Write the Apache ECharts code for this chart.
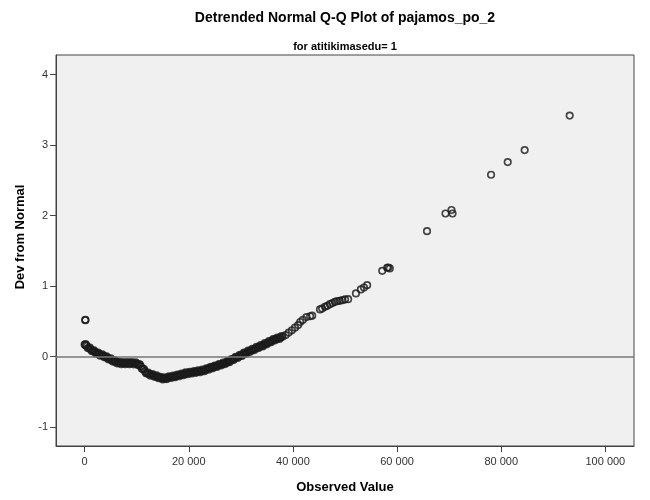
<!DOCTYPE html>
<html>
<head>
<meta charset="utf-8">
<script src="https://cdn.jsdelivr.net/npm/echarts@6/dist/echarts.min.js"></script>
<style>
  html, body { margin: 0; padding: 0; background: #fff; }
  #qq { width: 650px; height: 500px; }
</style>
</head>
<body>
<div id="qq"></div>
<script>
var observed = [
    130, 140,
    0, 150, 400, 800, 1200, 1600, 2000, 2400, 2800, 3200, 3600, 4000, 4400, 4800,
    5200, 5600, 6000, 6400, 6800, 7200, 7600, 8000, 8400, 8800, 9200, 9600,
    10000, 10400, 10800, 11200, 11600, 12000, 12400, 12800, 13200, 13600, 14000,
    14400, 14800, 15200, 15600, 16000, 16400, 16800, 17200, 17600, 18000, 18400,
    18800, 19200, 19600, 20000, 20400, 20800, 21200, 21600, 22000, 22400, 22800,
    23200, 23600, 24000, 24400, 24800, 25200, 25600, 26000, 26400, 26800, 27200,
    27600, 28000, 28400, 28800, 29200, 29600, 30000, 30400, 30800, 31200, 31600,
    32000, 32400, 32800, 33200, 33600, 34000, 34400, 34800, 35200, 35600, 36000,
    36400, 36800, 37200, 37600, 38000,
    38600, 39200, 39800, 40400, 41000, 41400, 41900, 42600, 43300, 43700,
    45200, 45600, 46150, 46600, 47100, 47600, 48050, 48500, 49000, 49500, 50000, 50600,
    52100, 53050, 53650, 54250,
    57150, 58100, 58300, 58600,
    65750, 69300, 70450, 70650,
    78050, 81250, 84500, 93150
];
var devFromNormal = [
    0.516, 0.52,
    0.17, 0.16, 0.15, 0.12, 0.10, 0.08, 0.063, 0.048, 0.033, 0.021, 0.011, -0.004, -0.018, -0.033,
    -0.049, -0.063, -0.076, -0.086, -0.092, -0.095, -0.095, -0.093, -0.093, -0.095, -0.095, -0.096,
    -0.099, -0.112, -0.140, -0.178, -0.212, -0.236, -0.250, -0.259, -0.268, -0.278, -0.288,
    -0.298, -0.308, -0.314, -0.309, -0.300, -0.292, -0.288, -0.283, -0.275, -0.266, -0.261,
    -0.253, -0.244, -0.238, -0.233, -0.228, -0.224, -0.219, -0.214, -0.209, -0.204, -0.198,
    -0.187, -0.176, -0.166, -0.157, -0.147, -0.137, -0.127, -0.117, -0.107, -0.097, -0.087,
    -0.073, -0.057, -0.042, -0.027, -0.013, 0.001, 0.016, 0.032, 0.047, 0.061, 0.076,
    0.088, 0.099, 0.114, 0.128, 0.141, 0.151, 0.166, 0.181, 0.195, 0.210, 0.225,
    0.240, 0.250, 0.259, 0.269, 0.279,
    0.305, 0.340, 0.372, 0.410, 0.446, 0.490, 0.520, 0.560, 0.572, 0.580,
    0.668, 0.680, 0.705, 0.720, 0.743, 0.760, 0.776, 0.785, 0.790, 0.800, 0.810, 0.814,
    0.895, 0.952, 0.980, 1.013,
    1.216, 1.260, 1.264, 1.250,
    1.780, 2.030, 2.080, 2.030,
    2.580, 2.760, 2.930, 3.420
];
// more cases inside the dense band (its upper and lower edges)
var observedBand = [
    200, 600, 1000, 1400, 1800, 2200, 2600, 3000, 3400, 3800, 4200, 4600, 5000,
    5400, 5800, 6200, 6600, 7000, 7400, 7800, 8200, 8600, 9000, 9400, 9800,
    10200, 10600, 11000, 11400, 11800, 12200, 12600, 13000, 13400, 13800, 14200,
    14600, 15000, 15400, 15800, 16200, 16600, 17000, 17400, 17800, 18200, 18600,
    19000, 19400, 19800, 20200, 20600, 21000, 21400, 21800, 22200, 22600, 23000,
    23400, 23800, 24200, 24600, 25000, 25400, 25800, 26200, 26600, 27000, 27400,
    27800, 28200, 28600, 29000, 29400, 29800, 30200, 30600, 31000, 31400, 31800,
    32200, 32600, 33000, 33400, 33800, 34200, 34600, 35000, 35400, 35800, 36200,
    36600, 37000, 37400, 37800
];
var devBand = [
    0.175, 0.120, 0.125, 0.075, 0.087, 0.041, 0.056, 0.012, 0.031, -0.012, 0.004, -0.041, -0.026,
    -0.071, -0.055, -0.096, -0.074, -0.109, -0.080, -0.109, -0.078, -0.109, -0.080, -0.111, -0.083,
    -0.121, -0.111, -0.174, -0.180, -0.239, -0.228, -0.270, -0.249, -0.288, -0.268, -0.308,
    -0.288, -0.326, -0.297, -0.320, -0.281, -0.305, -0.271, -0.294, -0.256, -0.279, -0.242,
    -0.264, -0.226, -0.251, -0.216, -0.241, -0.207, -0.232, -0.197, -0.222, -0.186, -0.208,
    -0.167, -0.186, -0.147, -0.167, -0.127, -0.147, -0.107, -0.127, -0.087, -0.107, -0.065,
    -0.080, -0.035, -0.050, -0.005, -0.021, 0.024, 0.009, 0.055, 0.039, 0.084, 0.067,
    0.109, 0.092, 0.136, 0.120, 0.161, 0.144, 0.189, 0.173, 0.218, 0.203, 0.248,
    0.230, 0.270, 0.249, 0.289
];
var xTicks = [0, 20000, 40000, 60000, 80000, 100000];
var yTicks = [-1, 0, 1, 2, 3, 4];

var points = [];
for (var i = 0; i < observed.length; i++) {
    points.push([observed[i], devFromNormal[i]]);
}
for (var j = 0; j < observedBand.length; j++) {
    points.push([observedBand[j], devBand[j]]);
}

var font = '"Liberation Sans", Arial, sans-serif';

var option = {
    animation: false,
    backgroundColor: '#ffffff',
    title: [
        {
            text: 'Detrended Normal Q-Q Plot of pajamos_po_2',
            left: 345, top: 11, padding: 0, textAlign: 'center',
            textStyle: { fontFamily: font, fontSize: 14, fontWeight: 'bold', color: '#000' }
        },
        {
            text: 'for atitikimasedu= 1',
            left: 345, top: 41, padding: 0, textAlign: 'center',
            textStyle: { fontFamily: font, fontSize: 11, fontWeight: 'bold', color: '#000' }
        }
    ],
    graphic: [
        {
            type: 'text', x: 20, y: 237, rotation: Math.PI / 2,
            style: { text: 'Dev from Normal', fontFamily: font, fontSize: 13, fontWeight: 'bold',
                     fill: '#000', align: 'center', verticalAlign: 'middle' }
        },
        {
            type: 'text', x: 345, y: 487,
            style: { text: 'Observed Value', fontFamily: font, fontSize: 13, fontWeight: 'bold',
                     fill: '#000', align: 'center', verticalAlign: 'middle' }
        }
    ],
    grid: {
        left: 56, right: 16, top: 55, bottom: 54,
        show: true, backgroundColor: '#f0f0f0', borderColor: '#444', borderWidth: 1,
        outerBoundsMode: 'none'
    },
    xAxis: {
        type: 'value', min: -5500, max: 105500,
        splitLine: { show: false },
        axisLine: { show: true, onZero: false, lineStyle: { color: '#444' } },
        axisTick: { show: true, length: 6, customValues: xTicks, lineStyle: { color: '#444' } },
        axisLabel: {
            customValues: xTicks, margin: 10, color: '#333', fontFamily: font, fontSize: 11,
            formatter: function (v) { return String(v).replace(/\B(?=(\d{3})+(?!\d))/g, ' '); }
        }
    },
    yAxis: {
        type: 'value', min: -1.27, max: 4.28,
        splitLine: { show: false },
        axisLine: { show: true, onZero: false, lineStyle: { color: '#444' } },
        axisTick: { show: true, length: 6, customValues: yTicks, lineStyle: { color: '#444' } },
        axisLabel: { customValues: yTicks, margin: 8, color: '#333', fontFamily: font, fontSize: 11 }
    },
    series: [
        {
            type: 'line', data: [], z: 1,
            markLine: {
                silent: true, symbol: 'none', label: { show: false },
                lineStyle: { color: '#777', width: 1.5, type: 'solid' },
                data: [{ yAxis: 0 }]
            }
        },
        {
            type: 'scatter', z: 3,
            symbol: 'circle', symbolSize: 6.5,
            itemStyle: { color: 'rgba(0,0,0,0)', borderColor: '#1a1a1a', borderWidth: 1.7 },
            data: points
        }
    ]
};

var myChart = echarts.init(document.getElementById('qq'));
myChart.setOption(option);
</script>
</body>
</html>
